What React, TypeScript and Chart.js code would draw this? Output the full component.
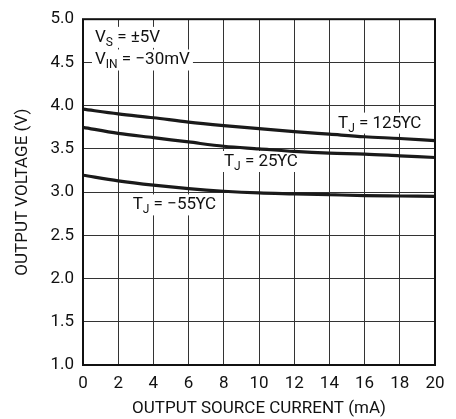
import { useEffect, useRef } from 'react'
import { Chart, registerables } from 'chart.js'

Chart.register(...registerables)

const currentMa = [0, 2, 4, 6, 8, 10, 12, 14, 16, 18, 20]
const vout125 = [3.96, 3.905, 3.86, 3.81, 3.77, 3.735, 3.7, 3.67, 3.64, 3.62, 3.595]
const vout25 = [3.75, 3.68, 3.63, 3.58, 3.53, 3.5, 3.47, 3.45, 3.44, 3.42, 3.4]
const voutM55 = [3.195, 3.13, 3.08, 3.04, 3.01, 2.99, 2.98, 2.97, 2.96, 2.955, 2.95]

const FONT = 'Roboto, "Liberation Sans", Arial, sans-serif'

type Part = { t: string; sub?: boolean }

// text notes, placed in data units (x in mA, y in V at the text baseline)
const notes: { x: number; y: number; parts: Part[] }[] = [
  { x: 0.68, y: 4.738, parts: [{ t: 'V' }, { t: 'S', sub: true }, { t: ' = ±5V' }] },
  { x: 0.68, y: 4.476, parts: [{ t: 'V' }, { t: 'IN', sub: true }, { t: ' = −30mV' }] },
  { x: 14.49, y: 3.746, parts: [{ t: 'T' }, { t: 'J', sub: true }, { t: ' = 125ϒC' }] },
  { x: 8.01, y: 3.302, parts: [{ t: 'T' }, { t: 'J', sub: true }, { t: ' = 25ϒC' }] },
  { x: 2.82, y: 2.8, parts: [{ t: 'T' }, { t: 'J', sub: true }, { t: ' = −55ϒC' }] },
]

const notesPlugin = {
  id: 'notes',
  beforeDatasetsDraw(chart: any) {
    const { ctx, scales } = chart
    ctx.save()
    ctx.textBaseline = 'alphabetic'
    ctx.textAlign = 'left'
    for (const n of notes) {
      const x0 = scales.x.getPixelForValue(n.x)
      const base = scales.y.getPixelForValue(n.y)
      let w = 0
      for (const p of n.parts) {
        ctx.font = p.sub ? `12px ${FONT}` : `17px ${FONT}`
        w += ctx.measureText(p.t).width
      }
      ctx.fillStyle = '#fff'
      ctx.fillRect(x0 - 3, base - 15, w + 6, 21)
      let x = x0
      ctx.fillStyle = '#111'
      for (const p of n.parts) {
        ctx.font = p.sub ? `12px ${FONT}` : `17px ${FONT}`
        ctx.fillText(p.t, x, p.sub ? base + 4 : base)
        x += ctx.measureText(p.t).width
      }
    }
    ctx.restore()
  },
  afterDraw(chart: any) {
    const { ctx, chartArea } = chart
    ctx.save()
    ctx.strokeStyle = '#111'
    ctx.lineWidth = 2
    ctx.strokeRect(chartArea.left, chartArea.top, chartArea.right - chartArea.left, chartArea.bottom - chartArea.top)
    ctx.restore()
  },
}

function OutputVoltageChart() {
  const chartRef = useRef<HTMLCanvasElement>(null)
  const chartInstanceRef = useRef<Chart | null>(null)

  useEffect(() => {
    if (!chartRef.current) return
    if (chartInstanceRef.current) chartInstanceRef.current.destroy()

    const ctx = chartRef.current.getContext('2d')
    if (!ctx) return

    const line = (vals: number[]) => ({
      data: currentMa.map((x, i) => ({ x, y: vals[i] })),
      borderColor: '#1a1a1a',
      borderWidth: 3.2,
      pointRadius: 0,
      cubicInterpolationMode: 'monotone' as const,
      fill: false,
    })

    chartInstanceRef.current = new Chart(ctx, {
      type: 'line',
      data: {
        datasets: [line(vout125), line(vout25), line(voutM55)],
      },
      options: {
        responsive: true,
        maintainAspectRatio: false,
        animation: false,
        layout: { padding: { left: 0, top: 14, right: 21, bottom: 0 } },
        plugins: {
          legend: { display: false },
          tooltip: { enabled: false },
        },
        scales: {
          x: {
            type: 'linear',
            min: 0,
            max: 20,
            ticks: { stepSize: 2, color: '#111', padding: 9, font: { family: FONT, size: 17 } },
            grid: { color: '#333', lineWidth: 1, drawTicks: false },
            border: { display: false },
            title: {
              display: true,
              text: 'OUTPUT SOURCE CURRENT (mA)',
              color: '#111',
              padding: { top: 0, bottom: 0 },
              font: { family: FONT, size: 17 },
            },
            afterFit: (s: any) => {
              s.height = 54
            },
          },
          y: {
            type: 'linear',
            min: 1,
            max: 5,
            ticks: {
              stepSize: 0.5,
              color: '#111',
              padding: 9,
              font: { family: FONT, size: 17 },
              callback: (v: any) => Number(v).toFixed(1),
            },
            grid: { color: '#333', lineWidth: 1, drawTicks: false },
            border: { display: false },
            title: {
              display: true,
              text: 'OUTPUT VOLTAGE (V)',
              color: '#111',
              padding: { top: 13, bottom: 0 },
              font: { family: FONT, size: 17 },
            },
            afterFit: (s: any) => {
              s.width = 83
            },
          },
        },
      },
      plugins: [notesPlugin],
    })

    return () => {
      if (chartInstanceRef.current) {
        chartInstanceRef.current.destroy()
        chartInstanceRef.current = null
      }
    }
  }, [])

  return (
    <div style={{ width: 456, height: 419, position: 'relative' }}>
      <canvas ref={chartRef}></canvas>
    </div>
  )
}

export default function App() {
  useEffect(() => {
    document.body.style.margin = '0'
  }, [])
  return <OutputVoltageChart />
}
